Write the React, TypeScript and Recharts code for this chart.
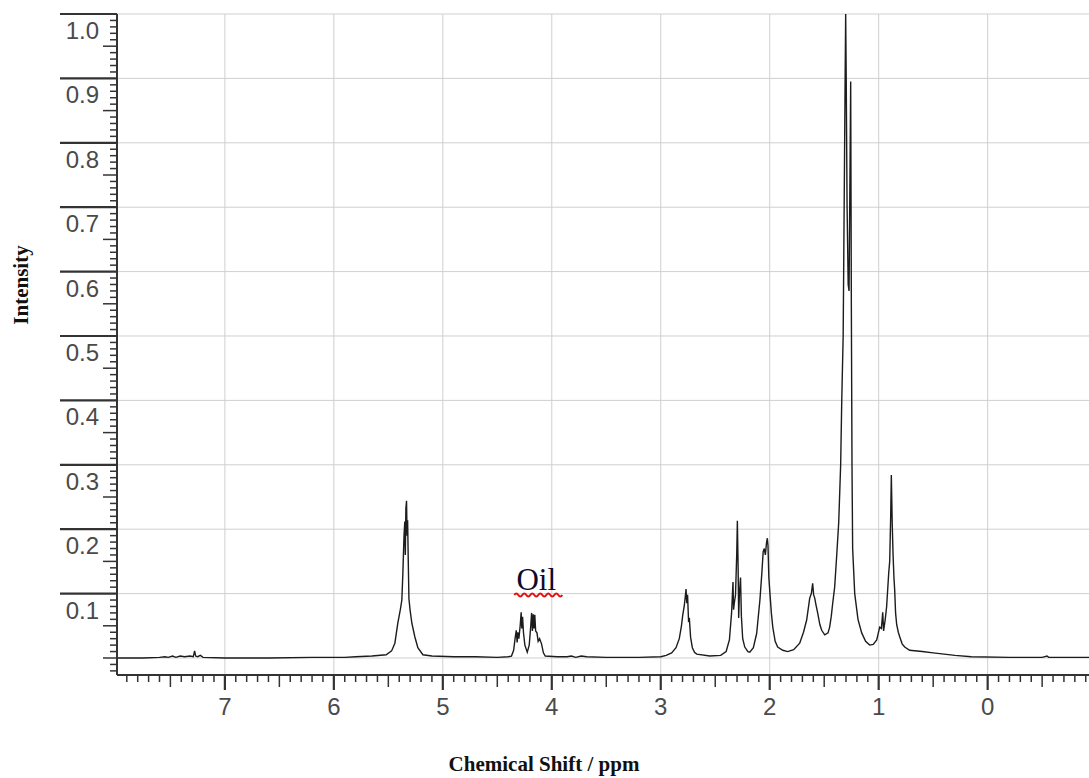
import { LineChart, Line, XAxis, YAxis, ReferenceLine, ReferenceDot } from 'recharts';

type Pt = [number, number];

// [ppm, intensity], high ppm first
const baselineLeft: Pt[] = [
  [7.99, 0.0], [7.75, 0.0], [7.6, 0.001], [7.55, 0.002], [7.52, 0.001], [7.48, 0.003], [7.45, 0.001],
  [7.41, 0.003], [7.37, 0.002], [7.32, 0.003], [7.29, 0.002], [7.278, 0.011], [7.268, 0.003],
  [7.25, 0.002], [7.225, 0.004], [7.2, 0.001], [7.0, 0.0], [6.6, 0.0], [6.2, 0.001], [5.9, 0.001],
];
const olefinic: Pt[] = [
  [5.8, 0.002], [5.65, 0.003], [5.52, 0.005], [5.47, 0.011], [5.44, 0.023], [5.413, 0.054], [5.39, 0.075],
  [5.376, 0.09], [5.367, 0.13], [5.356, 0.19], [5.349, 0.212], [5.344, 0.16], [5.339, 0.232], [5.333, 0.244],
  [5.328, 0.19], [5.323, 0.214], [5.317, 0.15], [5.311, 0.092], [5.3, 0.074], [5.284, 0.054], [5.257, 0.033],
  [5.229, 0.016], [5.183, 0.005], [5.1, 0.003], [4.9, 0.002], [4.7, 0.002], [4.5, 0.001], [4.4, 0.002],
];
const glycerol: Pt[] = [
  [4.37, 0.003], [4.35, 0.012], [4.337, 0.03], [4.326, 0.043], [4.318, 0.024], [4.311, 0.04], [4.302, 0.03],
  [4.29, 0.05], [4.281, 0.071], [4.275, 0.046], [4.268, 0.064], [4.26, 0.04], [4.247, 0.02], [4.225, 0.009],
  [4.207, 0.02], [4.193, 0.05], [4.185, 0.07], [4.178, 0.042], [4.17, 0.068], [4.163, 0.046], [4.156, 0.067],
  [4.148, 0.042], [4.136, 0.039], [4.125, 0.026], [4.112, 0.03], [4.094, 0.022], [4.077, 0.008], [4.06, 0.003],
  [3.95, 0.002], [3.86, 0.002], [3.82, 0.003], [3.78, 0.001], [3.73, 0.003], [3.68, 0.002], [3.5, 0.001], [3.2, 0.001],
];
const bisAllylic: Pt[] = [
  [3.0, 0.002], [2.95, 0.004], [2.9, 0.008], [2.86, 0.016], [2.83, 0.03], [2.81, 0.05], [2.798, 0.067],
  [2.785, 0.08], [2.775, 0.095], [2.768, 0.107], [2.761, 0.085], [2.754, 0.098], [2.745, 0.058], [2.737, 0.06],
  [2.726, 0.032], [2.71, 0.016], [2.69, 0.009], [2.67, 0.006], [2.55, 0.003], [2.45, 0.004],
];
const carbonylAllylic: Pt[] = [
  [2.4, 0.01], [2.37, 0.028], [2.35, 0.07], [2.342, 0.1], [2.337, 0.118], [2.332, 0.075], [2.325, 0.085],
  [2.314, 0.098], [2.303, 0.16], [2.297, 0.213], [2.29, 0.14], [2.285, 0.062], [2.278, 0.1], [2.268, 0.125],
  [2.26, 0.065], [2.248, 0.03], [2.229, 0.017], [2.2, 0.01], [2.183, 0.009], [2.15, 0.016], [2.12, 0.038],
  [2.09, 0.09], [2.073, 0.13], [2.06, 0.165], [2.05, 0.17], [2.04, 0.16], [2.03, 0.178], [2.022, 0.186],
  [2.016, 0.175], [2.008, 0.125], [2.0, 0.105], [1.985, 0.07], [1.972, 0.048], [1.95, 0.026], [1.927, 0.017],
  [1.88, 0.012], [1.835, 0.01],
];
const methylene: Pt[] = [
  [1.78, 0.013], [1.725, 0.023], [1.69, 0.04], [1.661, 0.059], [1.633, 0.093], [1.618, 0.1], [1.606, 0.116],
  [1.597, 0.098], [1.587, 0.093], [1.575, 0.082], [1.56, 0.07], [1.54, 0.052], [1.523, 0.043], [1.495, 0.036],
  [1.465, 0.039], [1.45, 0.048], [1.435, 0.065], [1.422, 0.085], [1.404, 0.11], [1.385, 0.16], [1.367, 0.21],
  [1.349, 0.3], [1.339, 0.4], [1.326, 0.5], [1.316, 0.72], [1.308, 0.9], [1.303, 1.0], [1.298, 0.9],
  [1.29, 0.7], [1.28, 0.58], [1.272, 0.57], [1.265, 0.72], [1.257, 0.895], [1.251, 0.55], [1.245, 0.3],
  [1.239, 0.17], [1.22, 0.1], [1.19, 0.06], [1.156, 0.039], [1.12, 0.026], [1.083, 0.02], [1.05, 0.021],
];
const methyl: Pt[] = [
  [1.018, 0.028], [0.991, 0.048], [0.975, 0.046], [0.963, 0.071], [0.955, 0.042], [0.94, 0.06], [0.927, 0.08],
  [0.908, 0.132], [0.899, 0.15], [0.89, 0.22], [0.884, 0.284], [0.876, 0.21], [0.868, 0.16], [0.86, 0.125],
  [0.853, 0.105], [0.845, 0.07], [0.835, 0.052], [0.82, 0.04], [0.807, 0.033], [0.785, 0.022], [0.761, 0.017],
  [0.716, 0.012],
];
const baselineRight: Pt[] = [
  [0.6, 0.01], [0.5, 0.008], [0.4, 0.006], [0.3, 0.004], [0.15, 0.002], [-0.2, 0.001], [-0.5, 0.001],
  [-0.545, 0.003], [-0.56, 0.001], [-0.93, 0.001],
];

const spectrum = [
  ...baselineLeft, ...olefinic, ...glycerol, ...bisAllylic, ...carbonylAllylic, ...methylene, ...methyl, ...baselineRight,
].map(([ppm, intensity]) => ({ ppm, intensity }));

const gridPpm = [0, 1, 2, 3, 4, 5, 6, 7];
const gridIntensity = [0, 0.1, 0.2, 0.3, 0.4, 0.5, 0.6, 0.7, 0.8, 0.9, 1.0];

// minor tick positions: every 0.1 ppm and every 0.01 intensity
const xTicks = Array.from({ length: 89 }, (_, i) => +(-0.9 + i * 0.1).toFixed(1));
const yTicks = Array.from({ length: 103 }, (_, i) => +(-0.02 + i * 0.01).toFixed(2));

const tickFont = '"Liberation Sans", Arial, sans-serif';
const titleFont = '"Liberation Serif", "Times New Roman", serif';

function XTick({ x, y, payload }: any) {
  const k = Math.round(payload.value * 10);
  const major = k % 10 === 0;
  const half = !major && k % 5 === 0;
  const len = major ? 15 : half ? 12 : 7;
  return (
    <g>
      <line x1={x} x2={x} y1={y} y2={y + len} stroke="#333" strokeWidth={major ? 2.2 : 1.5} />
      {major && (
        <text x={x} y={y + 40} textAnchor="middle" fontSize={24} fill="#4a4a4a" fontFamily={tickFont}>
          {k / 10}
        </text>
      )}
    </g>
  );
}

function YTick({ x, y, payload }: any) {
  const k = Math.round(payload.value * 100);
  const major = k > 0 && k % 10 === 0;
  const half = !major && k % 5 === 0;
  const len = major ? 57 : half ? 14 : 7;
  return (
    <g>
      <line x1={x - len} x2={x} y1={y} y2={y} stroke="#333" strokeWidth={major ? 2.2 : 1.5} />
      {major && (
        <text x={x - 18} y={y + 25} textAnchor="end" fontSize={24} fill="#4a4a4a" fontFamily={tickFont}>
          {(k / 100).toFixed(1)}
        </text>
      )}
    </g>
  );
}

function OilMark({ cx, cy }: any) {
  let d = `M ${cx - 22} ${cy + 5}`;
  for (let i = 0; i < 6; i++) d += ' q 2 -3 4 0 q 2 3 4 0';
  return (
    <g>
      <text x={cx} y={cy} textAnchor="middle" fontSize={31} fill="#0b0b2a" fontFamily={titleFont}>
        Oil
      </text>
      <path d={d} stroke="#e01010" strokeWidth={2} fill="none" />
    </g>
  );
}

export default function App() {
  return (
    <div style={{ position: 'absolute', left: 0, top: 0, background: '#fff' }}>
      <LineChart width={1089} height={778} data={spectrum} margin={{ top: 14, right: 0, bottom: 0, left: 0 }}>
        <XAxis
          type="number"
          dataKey="ppm"
          domain={[-0.93, 7.99]}
          reversed
          allowDataOverflow
          ticks={xTicks}
          interval={0}
          tick={<XTick />}
          tickLine={false}
          tickSize={0}
          tickMargin={0}
          height={103}
          axisLine={{ stroke: '#333', strokeWidth: 2 }}
          label={{
            content: ({ viewBox }: any) => (
              <text
                x={viewBox.x + 427}
                y={viewBox.y + 96}
                textAnchor="middle"
                fontSize={21}
                fontWeight="bold"
                fill="#111"
                fontFamily={titleFont}
              >
                Chemical Shift / ppm
              </text>
            ),
          }}
        />
        <YAxis
          type="number"
          domain={[-0.0264, 1.0]}
          allowDataOverflow
          ticks={yTicks}
          interval={0}
          tick={<YTick />}
          tickLine={false}
          tickSize={0}
          tickMargin={0}
          width={117}
          axisLine={{ stroke: '#333', strokeWidth: 2 }}
          label={{
            content: ({ viewBox }: any) => (
              <text
                x={28}
                y={viewBox.y + 271}
                transform={`rotate(-90 28 ${viewBox.y + 271})`}
                textAnchor="middle"
                fontSize={21}
                fontWeight="bold"
                fill="#111"
                fontFamily={titleFont}
              >
                Intensity
              </text>
            ),
          }}
        />
        {gridPpm.map((v) => (
          <ReferenceLine key={`gx${v}`} x={v} stroke="#cfcfcf" strokeWidth={1} />
        ))}
        {gridIntensity.map((v) => (
          <ReferenceLine key={`gy${v}`} y={v} stroke="#cfcfcf" strokeWidth={1} />
        ))}
        <Line
          type="linear"
          dataKey="intensity"
          stroke="#1c1c1c"
          strokeWidth={1.4}
          dot={false}
          isAnimationActive={false}
        />
        <ReferenceDot x={4.142} y={0.1056} r={0} shape={<OilMark />} />
      </LineChart>
    </div>
  );
}
